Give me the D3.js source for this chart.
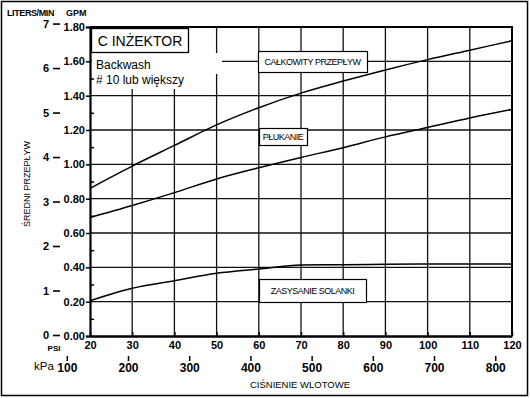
<!DOCTYPE html>
<html>
<head>
<meta charset="utf-8">
<script src="https://cdn.jsdelivr.net/npm/d3@7"></script>
<style>
  body { margin: 0; background: #fff; }
  text { font-family: "Liberation Sans", Arial, sans-serif; fill: #000; }
  .tick text { font-weight: bold; }
</style>
</head>
<body>
<svg id="chart" width="530" height="398"></svg>
<script>
// pressure in PSI and flow in GPM
const psi = [20, 30, 40, 50, 60, 70, 80, 90, 100, 110, 120];
const calkowity = [0.86, 0.99, 1.11, 1.23, 1.33, 1.415, 1.485, 1.55, 1.61, 1.665, 1.72];
const plukanie = [0.69, 0.76, 0.835, 0.915, 0.98, 1.04, 1.097, 1.16, 1.215, 1.27, 1.32];
const zasysanie = [0.205, 0.278, 0.322, 0.365, 0.39, 0.414, 0.415, 0.418, 0.42, 0.42, 0.42];

const gpmTicks = [0, 0.2, 0.4, 0.6, 0.8, 1.0, 1.2, 1.4, 1.6, 1.8];
const gpmMinor = [0.1, 0.3, 0.5, 0.7, 0.9, 1.1, 1.3, 1.5, 1.7];
const literTicks = [0, 1, 2, 3, 4, 5, 6, 7];
const kpaTicks = [100, 200, 300, 400, 500, 600, 700, 800];

const svg = d3.select('#chart');

const x = d3.scaleLinear().domain([20, 120]).range([90, 512]);
const y = d3.scaleLinear().domain([0, 1.8]).range([336, 27]);
// liters scale as printed on the chart (slightly compressed vs exact conversion)
const yL = d3.scaleLinear().domain([0, 7]).range([y(0) - 1, y(1.82)]);
const xK = d3.scaleLinear().domain([20 * 6.89476, 120 * 6.89476]).range([90, 512]);

// outer frame
svg.append('rect')
  .attr('x', 1.5).attr('y', 1.5).attr('width', 526).attr('height', 394)
  .attr('fill', 'none').attr('stroke', '#000').attr('stroke-width', 1.5);

// grid
const grid = svg.append('g').attr('stroke', '#111').attr('stroke-width', 1.3);
grid.selectAll('.v').data(psi.slice(1, -1)).enter().append('line')
  .attr('x1', d => x(d)).attr('x2', d => x(d))
  .attr('y1', y(1.8)).attr('y2', y(0));
grid.selectAll('.h').data(gpmTicks.slice(1, -1)).enter().append('line')
  .attr('x1', x(20)).attr('x2', x(120))
  .attr('y1', d => y(d)).attr('y2', d => y(d));

// plot frame: top and right
svg.append('path')
  .attr('d', 'M' + x(20) + ',' + y(1.8) + 'H' + x(120) + 'V' + y(0))
  .attr('fill', 'none').attr('stroke', '#000').attr('stroke-width', 2);

// white patch behind the backwash note
svg.append('rect').attr('x', x(20) + 2).attr('y', 53).attr('width', 130).attr('height', 21).attr('fill', '#fff');
svg.append('rect').attr('x', x(20) + 2).attr('y', 74).attr('width', 100).attr('height', 15).attr('fill', '#fff');

// curves
const line = d3.line().x((d, i) => x(psi[i])).y(d => y(d)).curve(d3.curveMonotoneX);
[calkowity, plukanie, zasysanie].forEach(s => {
  svg.append('path').datum(s).attr('d', line)
    .attr('fill', 'none').attr('stroke', '#000').attr('stroke-width', 1.5);
});

// left GPM axis
const gAxis = svg.append('g').attr('transform', 'translate(' + x(20) + ',0)')
  .call(d3.axisLeft(y).tickValues(gpmTicks).tickFormat(d3.format('.2f')).tickSize(4).tickPadding(1));
gAxis.select('.domain').attr('stroke-width', 2.2);
gAxis.selectAll('.tick line').attr('stroke-width', 1.5);
gAxis.selectAll('.tick text').attr('font-size', 11);
svg.append('g').attr('transform', 'translate(' + x(20) + ',0)')
  .call(d3.axisRight(y).tickValues(gpmMinor).tickFormat('').tickSize(4))
  .call(g => g.select('.domain').remove())
  .selectAll('.tick line').attr('stroke-width', 1.5);

// liters axis
const lAxis = svg.append('g').attr('transform', 'translate(60,0)')
  .call(d3.axisLeft(yL).tickValues(literTicks).tickFormat(d3.format('d')).tickSize(7).tickPadding(4));
lAxis.select('.domain').remove();
lAxis.selectAll('.tick line').attr('stroke-width', 1.6);
lAxis.selectAll('.tick text').attr('font-size', 11);

// bottom PSI axis
const xAxis = svg.append('g').attr('transform', 'translate(0,' + y(0) + ')')
  .call(d3.axisBottom(x).tickValues(psi).tickSize(0).tickPadding(5));
xAxis.select('.domain').attr('stroke-width', 2.6);
xAxis.selectAll('.tick text').attr('font-size', 11);
svg.append('g').attr('transform', 'translate(0,' + y(0) + ')')
  .call(d3.axisTop(x).tickValues(psi).tickFormat('').tickSize(4))
  .call(g => g.select('.domain').remove())
  .selectAll('.tick line').attr('stroke-width', 1.5);

// kPa axis
const kAxis = svg.append('g').attr('transform', 'translate(0,356)')
  .call(d3.axisBottom(xK).tickValues(kpaTicks).tickSize(5).tickPadding(2));
kAxis.select('.domain').remove();
kAxis.selectAll('.tick line').attr('stroke-width', 1.5);
kAxis.selectAll('.tick text').attr('font-size', 12).attr('font-weight', 'normal');

// axis captions
svg.append('text').attr('x', 7).attr('y', 16).attr('font-size', 9).attr('font-weight', 'bold')
  .attr('letter-spacing', -0.4).text('LITERS/MIN');
svg.append('text').attr('x', 66).attr('y', 16).attr('font-size', 9).attr('font-weight', 'bold').text('GPM');
svg.append('text').attr('transform', 'translate(30,184) rotate(-90)').attr('text-anchor', 'middle')
  .attr('font-size', 9).text('ŚREDNI PRZEPŁYW');
svg.append('text').attr('x', 54).attr('y', 351).attr('text-anchor', 'middle')
  .attr('font-size', 8).attr('font-weight', 'bold').text('PSI');
svg.append('text').attr('x', 34).attr('y', 370).attr('font-size', 11.5).text('kPa');
svg.append('text').attr('x', 300).attr('y', 388).attr('text-anchor', 'middle')
  .attr('font-size', 9.5).text('CIŚNIENIE WLOTOWE');

// title box
svg.append('rect').attr('x', 91.5).attr('y', 28.5).attr('width', 97).attr('height', 24)
  .attr('fill', '#fff').attr('stroke', '#000').attr('stroke-width', 1.3);
svg.append('text').attr('x', 140).attr('y', 46).attr('text-anchor', 'middle')
  .attr('font-size', 14).text('C INŻEKTOR');
svg.append('text').attr('x', 96).attr('y', 69).attr('font-size', 12).text('Backwash');
svg.append('text').attr('x', 96).attr('y', 84).attr('font-size', 12).text('# 10 lub większy');

// series labels
function label(x0, y0, w, h, txt) {
  svg.append('rect').attr('x', x0 + 0.5).attr('y', y0 + 0.5).attr('width', w).attr('height', h)
    .attr('fill', '#fff').attr('stroke', '#000').attr('stroke-width', 1.2);
  svg.append('text').attr('x', x0 + w / 2).attr('y', y0 + h / 2 + 3.5).attr('text-anchor', 'middle')
    .attr('font-size', 9).attr('letter-spacing', -0.5).text(txt);
}
label(258, 51, 109, 21, 'CAŁKOWITY PRZEPŁYW');
label(259, 128, 48, 17, 'PŁUKANIE');
label(259, 279, 107, 23, 'ZASYSANIE SOLANKI');
</script>
</body>
</html>
